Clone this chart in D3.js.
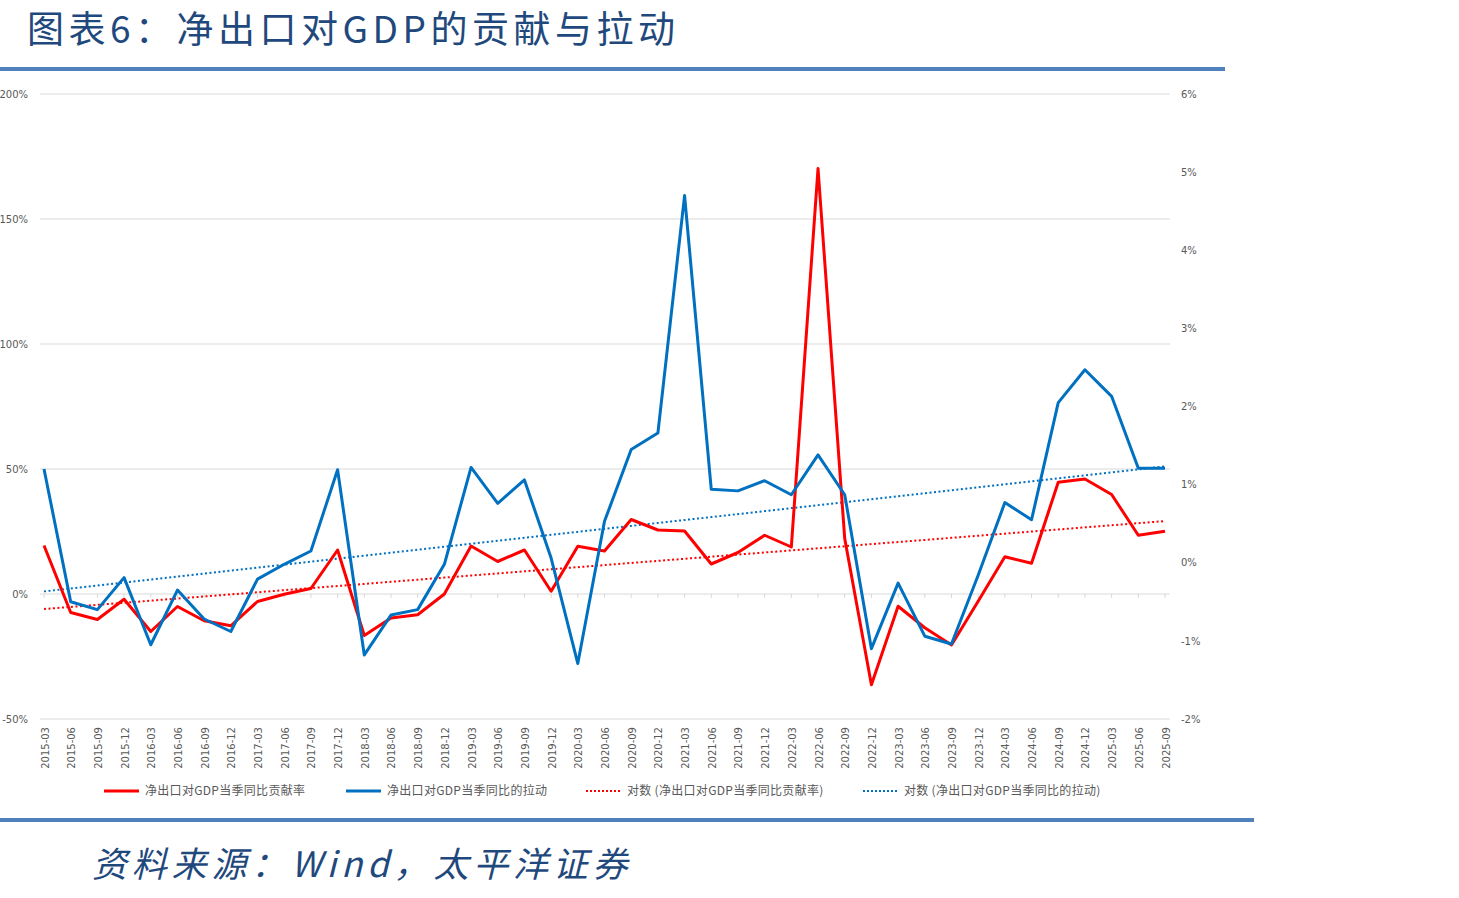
<!DOCTYPE html>
<html><head><meta charset="utf-8">
<script src="https://cdn.jsdelivr.net/npm/d3@7"></script>
<style>
html,body{margin:0;padding:0;background:#fff;}
svg{display:block;}
</style></head>
<body><svg id="c" width="1459" height="898"></svg>
<script>
const categories = ["2015-03","2015-06","2015-09","2015-12","2016-03","2016-06","2016-09","2016-12","2017-03","2017-06","2017-09","2017-12","2018-03","2018-06","2018-09","2018-12","2019-03","2019-06","2019-09","2019-12","2020-03","2020-06","2020-09","2020-12","2021-03","2021-06","2021-09","2021-12","2022-03","2022-06","2022-09","2022-12","2023-03","2023-06","2023-09","2023-12","2024-03","2024-06","2024-09","2024-12","2025-03","2025-06","2025-09"];
// 净出口对GDP当季同比贡献率 (%), left axis
const contribution = [19.4,-7.4,-10.2,-2.1,-15.0,-5.0,-10.7,-12.7,-3.0,-0.1,2.2,17.6,-16.6,-9.6,-8.3,0.0,19.2,13.0,17.6,1.1,19.1,17.2,29.8,25.6,25.2,12.0,16.6,23.5,18.8,170.2,22.2,-36.3,-4.9,-13.5,-20.4,-2.9,14.9,12.3,44.7,46.0,39.8,23.5,25.1];
// 净出口对GDP当季同比的拉动 (%), right axis
const pull = [1.20,-0.50,-0.60,-0.19,-1.05,-0.35,-0.72,-0.88,-0.21,-0.02,0.15,1.19,-1.18,-0.67,-0.60,-0.02,1.22,0.76,1.06,0.06,-1.29,0.53,1.45,1.66,4.70,0.94,0.92,1.05,0.87,1.38,0.87,-1.10,-0.26,-0.94,-1.04,-0.16,0.77,0.55,2.05,2.47,2.13,1.21,1.21];
const leftTicks = [-50,0,50,100,150,200];
const rightTicks = [-2,-1,0,1,2,3,4,5,6];
const titleText = "图表6：净出口对GDP的贡献与拉动";
const sourceText = "资料来源：Wind，太平洋证券";
const legendLabels = ["净出口对GDP当季同比贡献率","净出口对GDP当季同比的拉动","对数 (净出口对GDP当季同比贡献率)","对数 (净出口对GDP当季同比的拉动)"];

const RED = "#FF0000", BLUE = "#0070C0", NAVY = "#1F497D", RULE = "#4F81BD", GRID = "#D9D9D9", TXT = "#595959";
const svg = d3.select("#c");

// title & rules
svg.append("text").attr("x",27).attr("y",43).attr("font-family","'Noto Sans CJK SC'")
  .attr("font-size",37).attr("fill",NAVY).attr("letter-spacing",4.5).text(titleText);
svg.append("rect").attr("x",0).attr("y",67).attr("width",1225).attr("height",4).attr("fill",RULE);
svg.append("rect").attr("x",0).attr("y",818).attr("width",1254).attr("height",4).attr("fill",RULE);
svg.append("text").attr("x",92).attr("y",877).attr("font-family","'Noto Sans CJK SC'")
  .attr("font-size",35).attr("font-style","italic").attr("fill",NAVY).attr("letter-spacing",4.8).text(sourceText);

const x = d3.scalePoint().domain(categories).range([44,1165]);
const yL = d3.scaleLinear().domain([-50,200]).range([719,94]);
const yR = d3.scaleLinear().domain([-2,6]).range([719,94]);
const gx0 = 40, gx1 = 1170;

// gridlines
svg.append("g").selectAll("line").data(leftTicks).join("line")
  .attr("x1",gx0).attr("x2",gx1).attr("y1",d=>yL(d)).attr("y2",d=>yL(d))
  .attr("stroke",GRID).attr("stroke-width",1);

// left axis
const axL = svg.append("g").attr("transform",`translate(${gx0-12},0)`)
  .call(d3.axisLeft(yL).tickValues(leftTicks).tickFormat(d=>d+"%").tickSize(0).tickPadding(0));
axL.select(".domain").remove();
axL.selectAll("text").attr("font-family","'DejaVu Sans'").attr("font-size",10).attr("fill",TXT);

// right axis
const axR = svg.append("g").attr("transform",`translate(${gx1+11},0)`)
  .call(d3.axisRight(yR).tickValues(rightTicks).tickFormat(d=>d+"%").tickSize(0).tickPadding(0));
axR.select(".domain").remove();
axR.selectAll("text").attr("font-family","'DejaVu Sans'").attr("font-size",10).attr("fill",TXT);

// category ticks on zero line
svg.append("g").selectAll("line").data(categories).join("line")
  .attr("x1",d=>x(d)).attr("x2",d=>x(d)).attr("y1",yL(0)).attr("y2",yL(0)+4)
  .attr("stroke",GRID).attr("stroke-width",1);

// x labels at bottom
const axB = svg.append("g").attr("transform",`translate(0,${yL(-50)})`)
  .call(d3.axisBottom(x).tickSize(0).tickPadding(0));
axB.select(".domain").remove();
axB.selectAll("text").attr("font-family","'DejaVu Sans'").attr("font-size",10).attr("fill",TXT)
  .attr("text-anchor","end").attr("dy",0)
  .attr("transform","translate(4,8) rotate(-90)");

// linear regression trend from data
function trend(vals){
  const n = vals.length, mx = (n-1)/2, my = d3.mean(vals);
  let sxy=0, sxx=0;
  vals.forEach((v,i)=>{sxy+=(i-mx)*(v-my); sxx+=(i-mx)*(i-mx);});
  const b = sxy/sxx, a = my-b*mx;
  return vals.map((v,i)=>a+b*i);
}
const redTrend = trend(contribution), blueTrend = trend(pull);

const lineL = d3.line().x((d,i)=>x(categories[i])).y(d=>yL(d));
const lineR = d3.line().x((d,i)=>x(categories[i])).y(d=>yR(d));

svg.append("path").datum(redTrend).attr("d",lineL).attr("fill","none").attr("stroke",RED).attr("stroke-width",2).attr("stroke-dasharray","2,2.5");
svg.append("path").datum(blueTrend).attr("d",lineR).attr("fill","none").attr("stroke",BLUE).attr("stroke-width",2).attr("stroke-dasharray","2,2.5");
svg.append("path").datum(contribution).attr("d",lineL).attr("fill","none").attr("stroke",RED).attr("stroke-width",3).attr("stroke-linejoin","round");
svg.append("path").datum(pull).attr("d",lineR).attr("fill","none").attr("stroke",BLUE).attr("stroke-width",3).attr("stroke-linejoin","round");

// legend
const legend = [
  {x:104, c:RED, dash:null},
  {x:346, c:BLUE, dash:null},
  {x:586, c:RED, dash:"2,2"},
  {x:863, c:BLUE, dash:"2,2"}
];
const lg = svg.append("g").selectAll("g").data(legend).join("g");
lg.append("line").attr("x1",d=>d.x).attr("x2",d=>d.x+35).attr("y1",791).attr("y2",791)
  .attr("stroke",d=>d.c).attr("stroke-width",d=>d.dash?2:3).attr("stroke-dasharray",d=>d.dash);
lg.append("text").attr("x",d=>d.x+41).attr("y",795).attr("font-family","'Noto Sans CJK SC'")
  .attr("font-size",12).attr("letter-spacing",0.3).attr("fill",TXT).text((d,i)=>legendLabels[i]);
</script></body></html>
